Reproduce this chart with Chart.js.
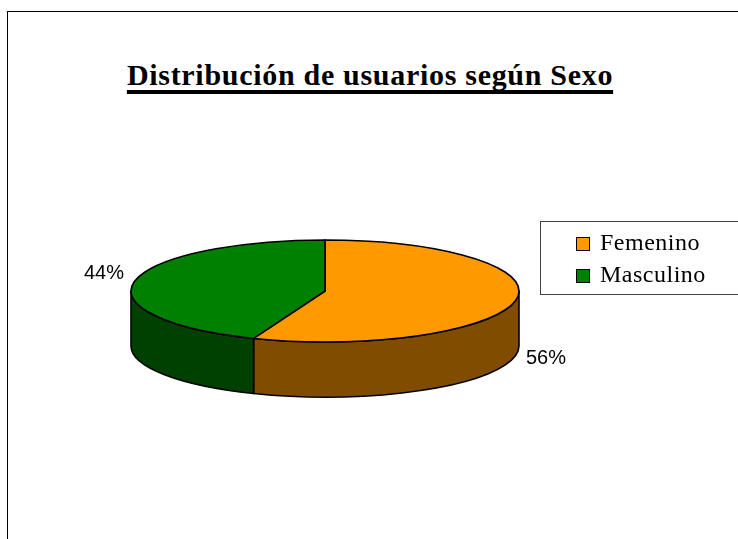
<!DOCTYPE html>
<html>
<head>
<meta charset="utf-8">
<script src="https://cdn.jsdelivr.net/npm/chart.js@4.4.0/dist/chart.umd.min.js"></script>
<style>
  body { margin: 0; background: #fff; overflow: hidden; }
  #wrap { position: relative; width: 738px; height: 539px; overflow: hidden; }
  #frame { position: absolute; left: 7px; top: 11px; width: 800px; height: 600px; border: 1px solid #000; }
  #title {
    position: absolute; left: 0; top: 59px; width: 740px; text-align: center;
    font: bold 30px "Liberation Serif", "Times New Roman", serif; line-height: 32px; letter-spacing: 0.7px;
    text-decoration: underline; text-decoration-thickness: 4px; text-underline-offset: 5px;
    text-decoration-skip-ink: none;
  }
  #legend {
    position: absolute; left: 540px; top: 221px; width: 220px; height: 74px;
    border: 1px solid #404040; box-sizing: border-box;
    font: 24px "Liberation Serif", "Times New Roman", serif; letter-spacing: 0.5px;
  }
  #legend .item { position: absolute; left: 35px; height: 28px; line-height: 28px; white-space: nowrap; }
  #legend .box { display: inline-block; width: 12px; height: 12px; border: 1px solid #000; margin-right: 10px; vertical-align: -1px; }
  canvas { position: absolute; left: 0; top: 0; }
</style>
</head>
<body>
<div id="wrap">
  <div id="frame"></div>
  <div id="title">Distribución de usuarios según Sexo</div>
  <canvas id="sexChart" width="738" height="539"></canvas>
  <div id="legend"></div>
</div>
<script>
  const categories = ['Femenino', 'Masculino'];
  const shares = [56, 44];
  const topColors = ['#FF9900', '#008000'];
  const sideColors = ['#804C00', '#004000'];

  // legend box, built from the same arrays
  const legend = document.getElementById('legend');
  categories.forEach((name, i) => {
    const row = document.createElement('div');
    row.className = 'item';
    row.style.top = (6 + i * 32) + 'px';
    row.innerHTML = `<span class="box" style="background:${topColors[i]}"></span>${name}`;
    legend.appendChild(row);
  });

  // Excel-like 3D pie: the flat arcs from Chart.js are projected onto a tilted disc
  const pie3d = {
    id: 'pie3d',
    beforeDatasetsDraw(chart, args, opts) {
      const ctx = chart.ctx;
      const arcs = chart.getDatasetMeta(0).data;
      const ds = chart.data.datasets[0];
      const cx = arcs[0].x, cy = arcs[0].y, rx = arcs[0].outerRadius;
      const ry = rx * opts.tilt, depth = rx * opts.depth;
      ctx.save();
      ctx.lineWidth = opts.lineWidth;
      ctx.strokeStyle = '#000';
      ctx.lineJoin = 'round';

      // front walls (only the part between 0 and PI faces the viewer)
      arcs.forEach((arc, i) => {
        const a = Math.max(arc.startAngle, 0);
        const b = Math.min(arc.endAngle, Math.PI);
        if (a >= b) return;
        ctx.beginPath();
        ctx.ellipse(cx, cy, rx, ry, 0, a, b);
        ctx.ellipse(cx, cy + depth, rx, ry, 0, b, a, true);
        ctx.closePath();
        ctx.fillStyle = ds.sideColor[i];
        ctx.fill();
        ctx.stroke();
      });

      // top faces
      arcs.forEach((arc, i) => {
        ctx.beginPath();
        ctx.moveTo(cx, cy);
        ctx.ellipse(cx, cy, rx, ry, 0, arc.startAngle, arc.endAngle);
        ctx.closePath();
        ctx.fillStyle = ds.backgroundColor[i];
        ctx.fill();
        ctx.stroke();
      });
      ctx.restore();
      return false;
    },
    afterDraw(chart, args, opts) {
      const ctx = chart.ctx;
      const arcs = chart.getDatasetMeta(0).data;
      const values = chart.data.datasets[0].data;
      const total = values.reduce((s, v) => s + v, 0);
      const cx = arcs[0].x, cy = arcs[0].y, rx = arcs[0].outerRadius;
      const ry = rx * opts.tilt, depth = rx * opts.depth;
      ctx.save();
      ctx.font = '20px "Liberation Sans", Arial, sans-serif';
      ctx.fillStyle = '#000';
      ctx.textAlign = 'center';
      ctx.textBaseline = 'middle';
      arcs.forEach((arc, i) => {
        const mid = (arc.startAngle + arc.endAngle) / 2;
        const s = Math.sin(mid);
        const lx = cx + (rx + opts.labelGap) * Math.cos(mid);
        const ly = cy + ry * s + (s > 0 ? depth + 3 : -8);
        ctx.fillText(Math.round(values[i] / total * 100) + '%', lx, ly);
      });
      ctx.restore();
    }
  };

  const ctx = document.getElementById('sexChart').getContext('2d');
  new Chart(ctx, {
    type: 'pie',
    data: {
      labels: categories,
      datasets: [{
        data: shares,
        backgroundColor: topColors,
        sideColor: sideColors,
        borderWidth: 0,
        hoverOffset: 0
      }]
    },
    options: {
      responsive: false,
      animation: false,
      events: [],
      layout: { padding: { left: 131, right: 219, top: 97, bottom: 54 } },
      plugins: {
        legend: { display: false },
        title: { display: false },
        tooltip: { enabled: false },
        pie3d: { tilt: 0.263, depth: 0.284, lineWidth: 1.6, labelGap: 31 }
      }
    },
    plugins: [pie3d]
  });
</script>
</body>
</html>
